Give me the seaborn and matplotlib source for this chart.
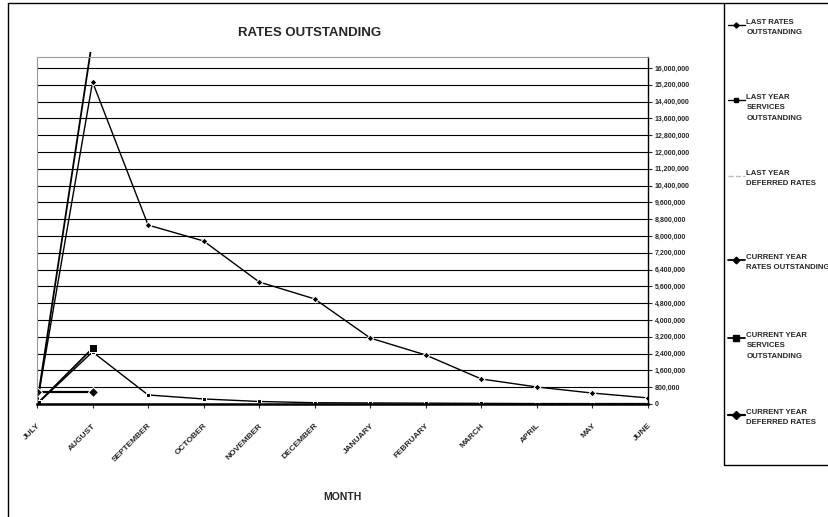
import numpy as np
import pandas as pd
import matplotlib
matplotlib.use("Agg")
import matplotlib.pyplot as plt
import seaborn as sns
from matplotlib.lines import Line2D
from matplotlib.patches import Rectangle
from matplotlib.ticker import FuncFormatter

sns.set_style("white")
plt.rcParams['font.family'] = ['Liberation Sans', 'DejaVu Sans']
plt.rcParams['font.weight'] = 'bold'

# data
months = ["JULY", "AUGUST", "SEPTEMBER", "OCTOBER", "NOVEMBER", "DECEMBER",
          "JANUARY", "FEBRUARY", "MARCH", "APRIL", "MAY", "JUNE"]
last_rates = [0, 15330000, 8520000, 7760000, 5810000, 5000000,
              3140000, 2330000, 1190000, 810000, 520000, 290000]
last_services = [0, 2480000, 430000, 240000, 120000, 60000,
                 50000, 40000, 30000, 20000, 20000, 20000]
last_deferred = [0, 0, 0, 0, 0, 0, 0, 0, 0, 0, 0, 0]
cur_rates = [0, 17400000] + [np.nan] * 10
cur_services = [0, 2650000] + [np.nan] * 10
cur_deferred = [570000, 570000] + [np.nan] * 10

labels = ["LAST RATES\nOUTSTANDING",
          "LAST YEAR\nSERVICES\nOUTSTANDING",
          "LAST YEAR\nDEFERRED RATES",
          "CURRENT YEAR\nRATES OUTSTANDING",
          "CURRENT YEAR\nSERVICES\nOUTSTANDING",
          "CURRENT YEAR\nDEFERRED RATES"]

W, H = 829, 517
def fx(px):
    return px / W
def fy(py):
    return 1 - py / H

fig = plt.figure(figsize=(W / 100, H / 100), dpi=100)
ax = fig.add_axes([fx(37), fy(404), fx(648) - fx(37), fy(57) - fy(404)])

x = np.arange(len(months))
styles = [
    (last_rates, dict(marker='D', markersize=3.5, lw=1.0, color='black')),
    (last_services, dict(marker='s', markersize=3.5, lw=1.0, color='black')),
    (last_deferred, dict(marker=None, lw=1.0, color='#bbbbbb', linestyle='--')),
    (cur_rates, dict(marker='D', markersize=4.5, lw=1.3, color='black')),
    (cur_services, dict(marker='s', markersize=6, lw=1.3, color='black')),
    (cur_deferred, dict(marker='D', markersize=5, lw=1.6, color='black')),
]

for vals, kw in styles:
    df = pd.DataFrame({'m': x, 'v': vals}).dropna()
    sns.lineplot(data=df, x='m', y='v', ax=ax, estimator=None, sort=False, **kw)
    line = ax.lines[-1]
    # the reference lets lines run a little past the plot frame
    line.set_clip_path(Rectangle((0, 0), 1, 1.015, transform=ax.transAxes))

ax.set_xlim(0, 11)
ax.set_ylim(0, 16520000)
ax.set_xlabel('')
ax.set_ylabel('')

ax.set_xticks(x)
ax.set_xticklabels(months, rotation=45, ha='right', rotation_mode='anchor',
                   fontsize=6, fontweight='bold')
ax.tick_params(axis='x', direction='out', length=3, width=0.8, pad=10, bottom=True)

ax.yaxis.tick_right()
ax.set_yticks(np.arange(0, 16000001, 800000))
ax.yaxis.set_major_formatter(FuncFormatter(lambda v, p: f"{int(v):,}"))
ax.tick_params(axis='y', direction='out', length=3, width=0.8, pad=2,
               labelsize=5, right=True, left=False)

ax.yaxis.grid(True, color='black', lw=0.8)
ax.set_axisbelow(True)
for s in ['left', 'top']:
    ax.spines[s].set_color('#999999')
    ax.spines[s].set_linewidth(0.8)
ax.spines['right'].set_color('black')
ax.spines['right'].set_linewidth(1.0)
ax.spines['bottom'].set_color('black')
ax.spines['bottom'].set_linewidth(1.8)

fig.text(fx(310), fy(33), "RATES OUTSTANDING", ha='center', va='center',
         fontsize=9.5, fontweight='bold')
fig.text(fx(342), fy(497), "MONTH", ha='center', va='center',
         fontsize=7.5, fontweight='bold')

# chart and legend frames
frame_kw = dict(color='black', lw=1.0, transform=fig.transFigure)
fig.add_artist(Line2D([fx(8), fx(8)], [fy(3), fy(517)], **frame_kw))
fig.add_artist(Line2D([fx(8), fx(829)], [fy(3), fy(3)], **frame_kw))
fig.add_artist(Line2D([fx(724), fx(724)], [fy(3), fy(465)], **frame_kw))
fig.add_artist(Line2D([fx(724), fx(829)], [fy(465), fy(465)], **frame_kw))

# legend entries
entry_y = [25, 100, 176, 260, 338, 415]
for (vals, kw), lab, ey in zip(styles, labels, entry_y):
    kw = dict(kw)
    ms = kw.pop('markersize', 0)
    mk = kw.pop('marker', None)
    fig.add_artist(Line2D([fx(728), fx(745)], [fy(ey), fy(ey)],
                          transform=fig.transFigure, **kw))
    if mk:
        fig.add_artist(Line2D([fx(736.5)], [fy(ey)], marker=mk,
                              markersize=ms * 0.75, color='black', lw=0,
                              transform=fig.transFigure))
    fig.text(fx(746.5), fy(ey - 6), lab, ha='left', va='top', fontsize=5.6,
             fontweight='bold', linespacing=1.65)

fig.savefig("out.png", dpi=100)
